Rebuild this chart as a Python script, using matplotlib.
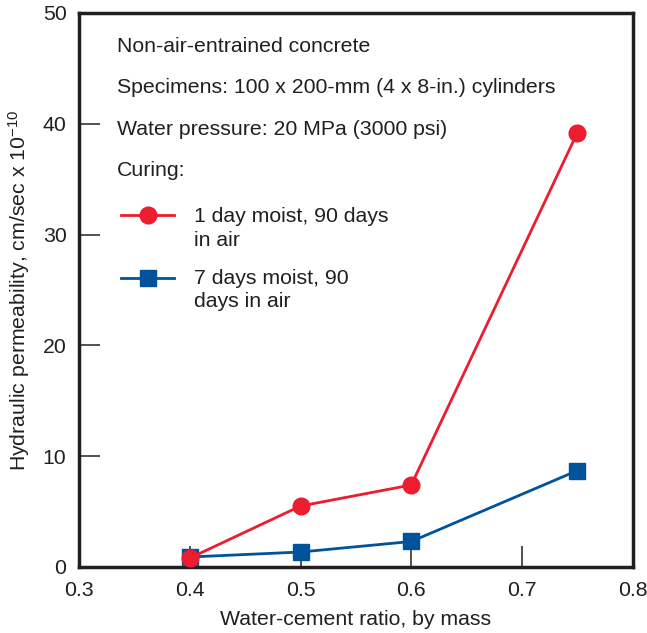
import matplotlib.pyplot as plt

plt.rcParams['font.family'] = ['Liberation Sans', 'DejaVu Sans']
plt.rcParams['mathtext.fontset'] = 'custom'
plt.rcParams['mathtext.rm'] = 'Liberation Sans'
plt.rcParams['mathtext.it'] = 'Liberation Sans'

# datos
wc_ratio = [0.4, 0.5, 0.6, 0.75]
perm_1day = [0.8, 5.5, 7.4, 39.2]
perm_7day = [0.9, 1.35, 2.3, 8.7]

red = '#ED1C2E'
blue = '#00529B'
fs = 15.3

fig = plt.figure(figsize=(6.47, 6.33), dpi=100)
ax = fig.add_axes([0.1221, 0.1043, 0.8559, 0.8752])

ax.plot(wc_ratio, perm_1day, color=red, lw=2, marker='o', ms=12, zorder=4, clip_on=False)
ax.plot(wc_ratio, perm_7day, color=blue, lw=2, marker='s', ms=12, zorder=3, clip_on=False)

ax.set_xlim(0.3, 0.8)
ax.set_ylim(0, 50)
ax.set_xticks([0.3, 0.4, 0.5, 0.6, 0.7, 0.8])
ax.set_yticks([0, 10, 20, 30, 40, 50])
ax.tick_params(direction='in', length=15, width=1.2, color='#333333', labelsize=fs,
               labelcolor='#231F20')
ax.tick_params(axis='x', pad=10)
ax.tick_params(axis='y', pad=9)
for s in ax.spines.values():
    s.set_linewidth(2.5)
    s.set_color('#231F20')

ax.set_xlabel('Water-cement ratio, by mass', fontsize=fs, labelpad=7, color='#231F20')
ax.set_ylabel('Hydraulic permeability, cm/sec x 10$^{\\mathrm{-10}}$', fontsize=fs,
              labelpad=8, color='#231F20')

# textos dentro del grafico
lines = ['Non-air-entrained concrete',
         'Specimens: 100 x 200-mm (4 x 8-in.) cylinders',
         'Water pressure: 20 MPa (3000 psi)',
         'Curing:']
ypos = [0.94, 0.865, 0.79, 0.715]
for t, y in zip(lines, ypos):
    ax.text(0.069, y, t, transform=ax.transAxes, fontsize=fs, va='center', color='#231F20')

# leyenda a mano
ax.plot([0.076, 0.172], [0.636, 0.636], color=red, lw=2, transform=ax.transAxes)
ax.plot([0.124], [0.636], color=red, marker='o', ms=12, transform=ax.transAxes)
ax.text(0.207, 0.611, '1 day moist, 90 days\nin air', transform=ax.transAxes,
        fontsize=fs, va='center', linespacing=1.3, color='#231F20')
ax.plot([0.076, 0.172], [0.522, 0.522], color=blue, lw=2, transform=ax.transAxes)
ax.plot([0.124], [0.522], color=blue, marker='s', ms=12, transform=ax.transAxes)
ax.text(0.207, 0.5, '7 days moist, 90\ndays in air', transform=ax.transAxes,
        fontsize=fs, va='center', linespacing=1.3, color='#231F20')

fig.savefig('out.png', dpi=100)
